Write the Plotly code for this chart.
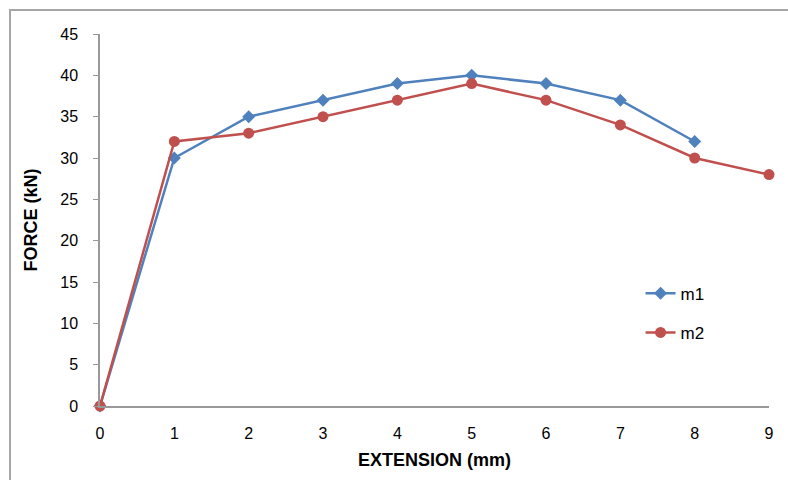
import plotly.graph_objects as go

ext_m1 = [0, 1, 2, 3, 4, 5, 6, 7, 8]
force_m1 = [0, 30, 35, 37, 39, 40, 39, 37, 32]
ext_m2 = [0, 1, 2, 3, 4, 5, 6, 7, 8, 9]
force_m2 = [0, 32, 33, 35, 37, 39, 37, 34, 30, 28]
y_ticks = [0, 5, 10, 15, 20, 25, 30, 35, 40, 45]
x_ticks = [0, 1, 2, 3, 4, 5, 6, 7, 8, 9]

fig = go.Figure()
fig.add_trace(go.Scatter(x=ext_m1, y=force_m1, name="m1", mode="lines+markers",
                         legendgroup="a", cliponaxis=False,
                         line=dict(color="#4F81BD", width=2.5),
                         marker=dict(symbol="diamond", size=10, color="#4F81BD")))
fig.add_trace(go.Scatter(x=ext_m2, y=force_m2, name="m2", mode="lines+markers",
                         legendgroup="b", cliponaxis=False,
                         line=dict(color="#C0504D", width=2.5),
                         marker=dict(symbol="circle", size=11, color="#C0504D")))

axis_font = dict(family="Liberation Sans, Arial, sans-serif", size=16, color="#000")
fig.update_layout(
    width=788, height=480,
    margin=dict(l=100, r=19, t=34, b=74),
    paper_bgcolor="white", plot_bgcolor="white",
    font=axis_font,
    showlegend=True,
    legend=dict(x=0.808, y=0.35, xanchor="left", yanchor="top",
                tracegroupgap=14, font=dict(size=17), bgcolor="rgba(0,0,0,0)"),
    xaxis=dict(range=[0, 9], tickvals=x_ticks, showgrid=False, zeroline=False,
               showline=True, linecolor="#999999", linewidth=1.5, ticks="",
               ticklabelstandoff=12, tickfont=axis_font,
               title=dict(text="<b>EXTENSION (mm)</b>", font=dict(size=18), standoff=12)),
    yaxis=dict(range=[0, 45], tickvals=y_ticks, showgrid=False, zeroline=False,
               showline=True, linecolor="#999999", linewidth=1.5, ticks="outside",
               ticklen=5, tickcolor="#999999", ticklabelstandoff=12, tickfont=axis_font,
               title=dict(text="<b>FORCE (kN)</b>", font=dict(size=18), standoff=18)),
)

fig.add_shape(type="rect", xref="paper", yref="paper",
              x0=-0.1345, x1=1.05, y0=-0.25, y1=1.0645,
              line=dict(color="#A6A6A6", width=2), fillcolor="rgba(0,0,0,0)", layer="below")

fig.write_html("out.html")
